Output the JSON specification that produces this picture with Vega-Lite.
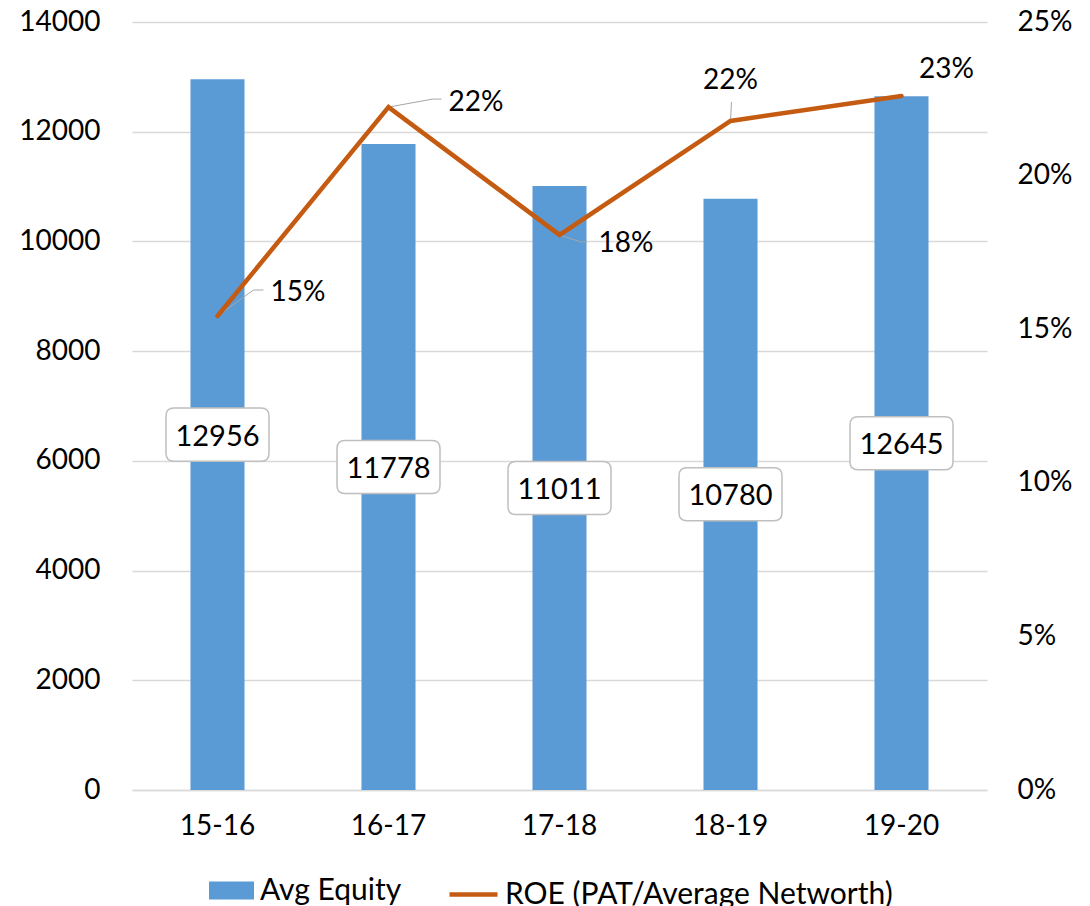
{
  "$schema": "https://vega.github.io/schema/vega-lite/v6.json",
  "autosize": "none",
  "width": 855,
  "height": 768,
  "padding": {"left": 132, "top": 22, "right": 103, "bottom": 116},
  "background": "white",
  "config": {
    "font": "Lato",
    "view": {"stroke": null},
    "axis": {"labelFont": "Lato", "labelFontSize": 28, "labelColor": "#000000", "ticks": false, "title": null},
    "legend": {"labelFont": "Lato", "labelFontSize": 30, "labelColor": "#000000", "padding": 0, "labelLimit": 0}
  },
  "data": {
    "values": [
      {"year": "15-16", "equity": 12956, "roe": 0.1543},
      {"year": "16-17", "equity": 11778, "roe": 0.2223},
      {"year": "17-18", "equity": 11011, "roe": 0.1807},
      {"year": "18-19", "equity": 10780, "roe": 0.2178},
      {"year": "19-20", "equity": 12645, "roe": 0.2259}
    ]
  },
  "encoding": {
    "x": {
      "field": "year", "type": "nominal", "sort": null,
      "scale": {"paddingInner": 0.684, "paddingOuter": 0.342},
      "axis": {"labelAngle": 0, "labelPadding": 22, "domainColor": "#d9d9d9", "domainWidth": 1.5, "grid": false}
    }
  },
  "layer": [
    {
      "mark": {"type": "bar", "color": "#5b9bd5"},
      "encoding": {
        "y": {"field": "equity", "type": "quantitative", "scale": {"domain": [0, 14000], "nice": false},
          "axis": {"values": [0, 2000, 4000, 6000, 8000, 10000, 12000, 14000], "format": "d", "domain": false, "gridColor": "#d9d9d9", "gridWidth": 1.5, "labelPadding": 32}},
        "fill": {"datum": "Avg Equity", "scale": {"range": ["#5b9bd5"]},
          "legend": {"title": null, "orient": "none", "legendX": 77, "legendY": 846, "symbolType": "M-1,-0.4H1V0.4H-1Z", "symbolSize": 2025, "symbolStrokeWidth": 0, "labelOffset": 6}}
      }
    },
    {
      "encoding": {
        "y": {"field": "equity", "type": "quantitative", "scale": {"domain": [0, 28000], "nice": false}, "axis": null}
      },
      "layer": [
        {
          "mark": {"type": "point", "shape": "M-0.845,-0.515L0.845,-0.515Q1,-0.515 1,-0.36L1,0.36Q1,0.515 0.845,0.515L-0.845,0.515Q-1,0.515 -1,0.36L-1,-0.36Q-1,-0.515 -0.845,-0.515Z", "size": 10609, "filled": true, "fill": "white", "stroke": "#bfbfbf", "strokeWidth": 1.5, "opacity": 1}
        },
        {
          "mark": {"type": "text", "fontSize": 29, "fill": "#000000", "baseline": "middle", "dy": 2},
          "encoding": {
            "text": {"field": "equity", "type": "quantitative", "format": "d"}
          }
        }
      ]
    },
    {
      "encoding": {
        "y": {"field": "roe", "type": "quantitative", "scale": {"domain": [0, 0.25], "nice": false},
          "axis": {"orient": "right", "values": [0, 0.05, 0.1, 0.15, 0.2, 0.25], "format": ".0%", "domain": false, "grid": false, "labelPadding": 30}}
      },
      "layer": [
        {
          "transform": [{"filter": "datum.year == '15-16'"}],
          "mark": {"type": "rule", "color": "#a6a6a6", "strokeWidth": 1, "x2Offset": 36, "y2Offset": -26},
          "encoding": {"x2": {"field": "year"}, "y2": {"field": "roe"}}
        },
        {
          "transform": [{"filter": "datum.year == '15-16'"}],
          "mark": {"type": "rule", "color": "#a6a6a6", "strokeWidth": 1, "xOffset": 36, "yOffset": -26, "x2Offset": 46, "y2Offset": -26},
          "encoding": {"x2": {"field": "year"}, "y2": {"field": "roe"}}
        },
        {
          "transform": [{"filter": "datum.year == '16-17'"}],
          "mark": {"type": "rule", "color": "#a6a6a6", "strokeWidth": 1, "x2Offset": 44, "y2Offset": -8},
          "encoding": {"x2": {"field": "year"}, "y2": {"field": "roe"}}
        },
        {
          "transform": [{"filter": "datum.year == '16-17'"}],
          "mark": {"type": "rule", "color": "#a6a6a6", "strokeWidth": 1, "xOffset": 44, "yOffset": -8, "x2Offset": 53, "y2Offset": -8},
          "encoding": {"x2": {"field": "year"}, "y2": {"field": "roe"}}
        },
        {
          "transform": [{"filter": "datum.year == '17-18'"}],
          "mark": {"type": "rule", "color": "#a6a6a6", "strokeWidth": 1, "x2Offset": 21, "y2Offset": 7},
          "encoding": {"x2": {"field": "year"}, "y2": {"field": "roe"}}
        },
        {
          "transform": [{"filter": "datum.year == '17-18'"}],
          "mark": {"type": "rule", "color": "#a6a6a6", "strokeWidth": 1, "xOffset": 21, "yOffset": 7, "x2Offset": 27, "y2Offset": 7},
          "encoding": {"x2": {"field": "year"}, "y2": {"field": "roe"}}
        },
        {
          "transform": [{"filter": "datum.year == '18-19'"}],
          "mark": {"type": "rule", "color": "#a6a6a6", "strokeWidth": 1, "x2Offset": 1, "y2Offset": -19},
          "encoding": {"x2": {"field": "year"}, "y2": {"field": "roe"}}
        },
        {
          "mark": {"type": "line", "color": "#c55a11", "strokeWidth": 4.5, "strokeCap": "round", "strokeJoin": "miter"},
          "encoding": {
            "stroke": {"datum": "ROE (PAT/Average Networth)", "scale": {"range": ["#c55a11"]},
              "legend": {"title": null, "orient": "none", "legendX": 315, "legendY": 846, "symbolType": "M-1,0H1", "symbolSize": 2304, "symbolStrokeWidth": 4.5, "labelOffset": 5}}
          }
        },
        {
          "transform": [{"filter": "datum.year == '15-16'"}],
          "mark": {"type": "text", "fontSize": 28, "fill": "#000000", "align": "left", "baseline": "middle", "dx": 53, "dy": -23},
          "encoding": {"text": {"field": "roe", "type": "quantitative", "format": ".0%"}}
        },
        {
          "transform": [{"filter": "datum.year == '16-17'"}],
          "mark": {"type": "text", "fontSize": 28, "fill": "#000000", "align": "left", "baseline": "middle", "dx": 60, "dy": -4},
          "encoding": {"text": {"field": "roe", "type": "quantitative", "format": ".0%"}}
        },
        {
          "transform": [{"filter": "datum.year == '17-18'"}],
          "mark": {"type": "text", "fontSize": 28, "fill": "#000000", "align": "left", "baseline": "middle", "dx": 39, "dy": 9},
          "encoding": {"text": {"field": "roe", "type": "quantitative", "format": ".0%"}}
        },
        {
          "transform": [{"filter": "datum.year == '18-19'"}],
          "mark": {"type": "text", "fontSize": 28, "fill": "#000000", "align": "center", "baseline": "middle", "dx": 0, "dy": -40},
          "encoding": {"text": {"field": "roe", "type": "quantitative", "format": ".0%"}}
        },
        {
          "transform": [{"filter": "datum.year == '19-20'"}],
          "mark": {"type": "text", "fontSize": 28, "fill": "#000000", "align": "center", "baseline": "middle", "dx": 45, "dy": -26},
          "encoding": {"text": {"field": "roe", "type": "quantitative", "format": ".0%"}}
        }
      ]
    }
  ],
  "resolve": {"scale": {"y": "independent"}}
}
